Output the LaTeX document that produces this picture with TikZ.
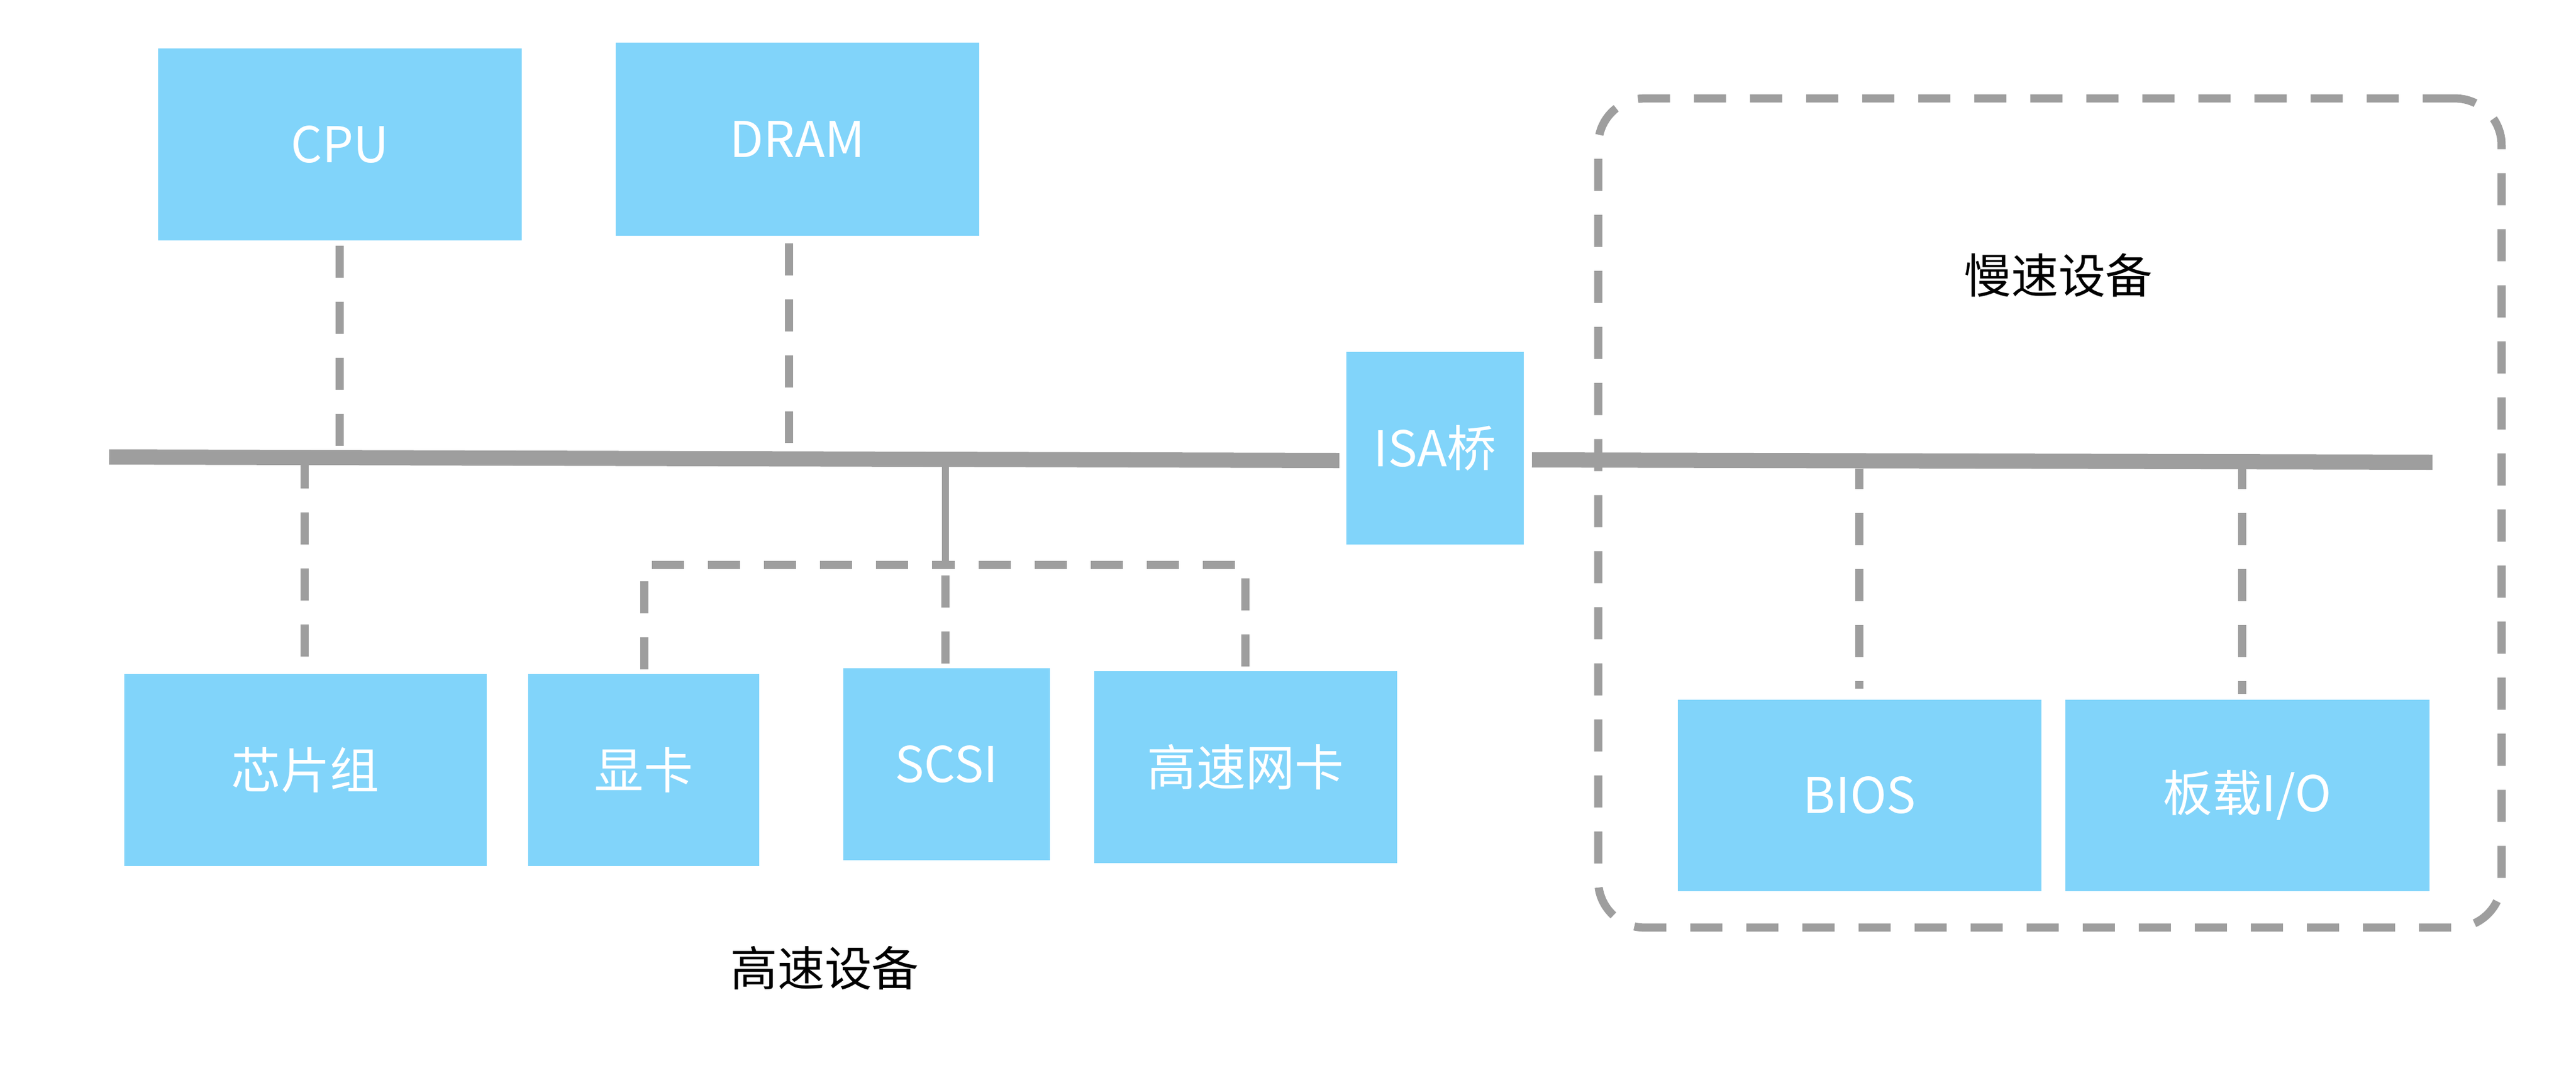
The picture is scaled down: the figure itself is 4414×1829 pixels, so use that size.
\documentclass[tikz,border=0pt]{standalone}
\usepackage{fontspec}
\setmainfont{Noto Sans CJK SC}
\definecolor{boxblue}{HTML}{81D4FA}
\definecolor{busgray}{HTML}{9E9E9E}
\begin{document}
\begin{tikzpicture}[x=0.01cm,y=-0.01cm,
  box/.style={fill=boxblue, draw=none, inner sep=0pt, text=white,
    font=\fontsize{24pt}{28pt}\selectfont},
  bus/.style={draw=busgray, line width=0.26cm},
  link/.style={draw=busgray, line width=0.12cm},
  dsh/.style={draw=busgray, line width=0.14cm, dash pattern=on 0.55cm off 0.41cm},
  lbl/.style={text=black, font=\fontsize{23pt}{28pt}\selectfont}]
\useasboundingbox (0,0) rectangle (4414,1829);

% slow-device group frame
\node[dsh, rounded corners=0.8cm, minimum width=15.47cm, minimum height=14.2cm,
  inner sep=0pt] (slowgrp) at (3512.5,879) {};

% boxes
\node[box, minimum width=6.23cm, minimum height=3.29cm] (cpu)  at (582.5,247.5) {CPU};
\node[box, minimum width=6.23cm, minimum height=3.31cm] (dram) at (1366.5,238.5) {DRAM};
\node[box, minimum width=3.04cm, minimum height=3.30cm] (isa)  at (2459,768) {ISA桥};
\node[box, minimum width=6.21cm, minimum height=3.29cm] (chip) at (523.5,1319.5) {芯片组};
\node[box, minimum width=3.96cm, minimum height=3.29cm] (gpu)  at (1103,1319.5) {显卡};
\node[box, minimum width=3.54cm, minimum height=3.29cm] (scsi) at (1622,1309.5) {SCSI};
\node[box, minimum width=5.19cm, minimum height=3.29cm] (nic)  at (2134.5,1314.5) {高速网卡};
\node[box, minimum width=6.23cm, minimum height=3.28cm] (bios) at (3186.5,1363) {BIOS};
\node[box, minimum width=6.24cm, minimum height=3.28cm] (obio) at (3851,1363) {板载I/O};

% labels
\node[lbl] (slowlbl) at (3527,472) {慢速设备};
\node[lbl] (fastlbl) at (1413,1659) {高速设备};

% buses
\coordinate (busL1) at (187,783);
\coordinate (busL2) at (2295,789);
\coordinate (busR1) at (2625,788);
\coordinate (busR2) at (4168,792);
\draw[bus] (busL1) -- (busL2);
\draw[bus] (busR1) -- (busR2);

% bus tap points
\coordinate (cpuB)  at (582,764);
\coordinate (dramB) at (1352,759);
\coordinate (chipB) at (522,797);
\coordinate (scsiB) at (1620,799);
\coordinate (brL) at (1104,968);
\coordinate (brM) at (1620,968);
\coordinate (brR) at (2134,968);
\coordinate (biosB) at (3186,803);
\coordinate (obioB) at (3842,803);

% connectors
\draw[dsh] (cpu.south -| cpuB) ++(0,8) -- (cpuB);
\draw[dsh] (dram.south -| dramB) ++(0,12) -- (dramB);
\draw[dsh] (chip.north -| chipB) ++(0,-29) -- (chipB);
\draw[link] (scsiB) -- (brM);
\draw[dsh] (scsi.north -| brM) ++(0,-7) -- (brM);
\draw[dsh] (gpu.north -| brL) ++(0,-7) -- (brL) -- (brM);
\draw[dsh] (nic.north -| brR) ++(0,-7) -- (brR) -- (brM);
\draw[dsh, dash phase=0.2cm] (biosB) -- ([yshift=0.18cm]bios.north -| biosB);
\draw[dsh, dash phase=0.2cm] (obioB) -- ([yshift=0.09cm]obio.north -| obioB);
\end{tikzpicture}
\end{document}
